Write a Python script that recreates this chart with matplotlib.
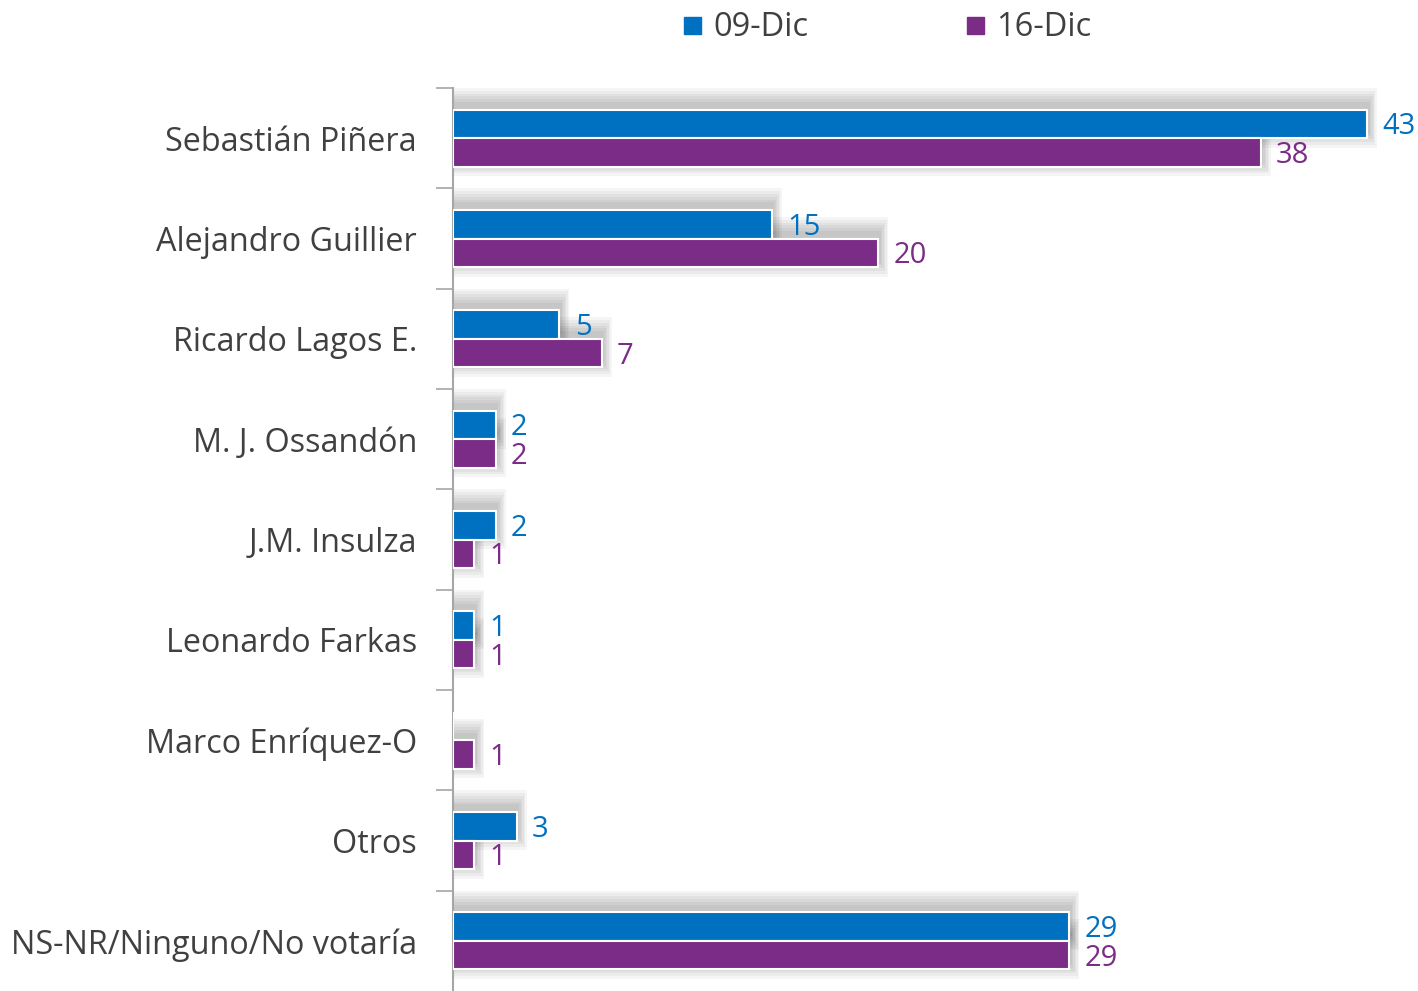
import matplotlib.pyplot as plt
import numpy as np

candidatos = ['Sebastián Piñera', 'Alejandro Guillier', 'Ricardo Lagos E.',
              'M. J. Ossandón', 'J.M. Insulza', 'Leonardo Farkas',
              'Marco Enríquez-O', 'Otros', 'NS-NR/Ninguno/No votaría']
dic09 = [43, 15, 5, 2, 2, 1, None, 3, 29]
dic16 = [38, 20, 7, 2, 1, 1, 1, 1, 29]
series = ['09-Dic', '16-Dic']

azul = '#0070C0'
morado = '#7B2C87'
gris = '#404040'

plt.rcParams['font.family'] = ['Open Sans', 'DejaVu Sans']

fig = plt.figure(figsize=(14.18, 9.91), dpi=100)
ax = fig.add_axes([453 / 1418, 0.0, 1 - 453 / 1418, 1 - 88 / 991])

y = np.arange(len(candidatos))
h = 0.285

def sombra(xs, ys):
    # soft shadow: stacked translucent grey bars
    for k in range(6):
        grow = 0.07 * k
        for v, yy in zip(xs, ys):
            if not v:
                continue
            ax.barh(yy - 0.06, v + 0.12 + grow, height=h + 0.03 + grow * 0.8,
                    left=0, color='black', alpha=0.04, lw=0, zorder=1)

sombra(dic09, y - h / 2)
sombra(dic16, y + h / 2)

v09 = [v if v else 0 for v in dic09]
ax.barh(y - h / 2, v09, height=h, color=azul, edgecolor='white', lw=1.5, zorder=3)
ax.barh(y + h / 2, dic16, height=h, color=morado, edgecolor='white', lw=1.5, zorder=3)

for i in range(len(candidatos)):
    if dic09[i]:
        ax.text(dic09[i] + 0.72, y[i] - h / 2 + 0.03, str(dic09[i]), color=azul,
                fontsize=21, va='center', ha='left', zorder=4)
    ax.text(dic16[i] + 0.72, y[i] + h / 2 + 0.03, str(dic16[i]), color=morado,
            fontsize=21, va='center', ha='left', zorder=4)

ax.set_xlim(0, 45.4)
ax.set_ylim(len(candidatos) - 0.5, -0.5)
ax.set_yticks(y)
ax.set_yticklabels(candidatos, fontsize=23.3, color=gris)
ax.tick_params(axis='y', which='major', length=0, pad=26)
ax.set_yticks(np.arange(len(candidatos)) - 0.5, minor=True)
ax.tick_params(axis='y', which='minor', length=12, width=1.2, color='#A6A6A6')
ax.set_xticks([])
for s in ['top', 'right', 'bottom']:
    ax.spines[s].set_visible(False)
ax.spines['left'].set_color('#A6A6A6')
ax.spines['left'].set_linewidth(1.5)

# legend
fig.patches.append(plt.Rectangle((684 / 1418, 1 - 34 / 991), 17 / 1418, 17 / 991,
                                 transform=fig.transFigure, color=azul))
fig.text(713 / 1418, 1 - 27 / 991, series[0], fontsize=23.5, color=gris, va='center')
fig.patches.append(plt.Rectangle((967 / 1418, 1 - 34 / 991), 17 / 1418, 17 / 991,
                                 transform=fig.transFigure, color=morado))
fig.text(996 / 1418, 1 - 27 / 991, series[1], fontsize=23.5, color=gris, va='center')

fig.savefig('out.png', dpi=100)
